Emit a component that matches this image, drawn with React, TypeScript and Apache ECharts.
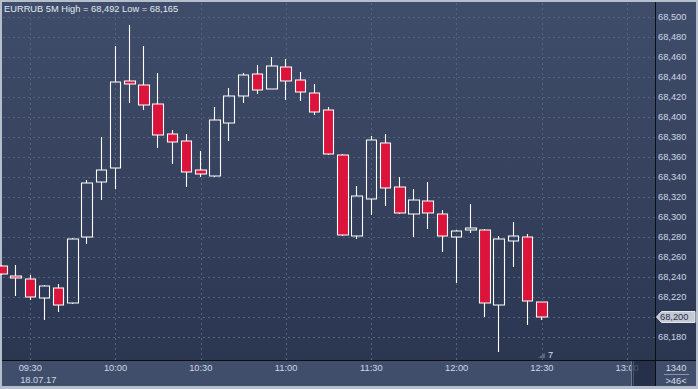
import React, { useEffect, useRef } from 'react';
import * as echarts from 'echarts';

const symbolTitle = 'EURRUB 5M';
const times = [
  '09:20', '09:25', '09:30', '09:35', '09:40', '09:45', '09:50', '09:55',
  '10:00', '10:05', '10:10', '10:15', '10:20', '10:25', '10:30', '10:35',
  '10:40', '10:45', '10:50', '10:55', '11:00', '11:05', '11:10', '11:15',
  '11:20', '11:25', '11:30', '11:35', '11:40', '11:45', '11:50', '11:55',
  '12:00', '12:05', '12:10', '12:15', '12:20', '12:25', '12:30',
];
const opens = [
  68.251, 68.241, 68.238, 68.219, 68.229, 68.214, 68.280, 68.335,
  68.349, 68.436, 68.432, 68.413, 68.383, 68.376, 68.347, 68.341,
  68.394, 68.421, 68.443, 68.428, 68.450, 68.437, 68.424, 68.407,
  68.362, 68.281, 68.318, 68.374, 68.330, 68.303, 68.316, 68.303,
  68.280, 68.287, 68.287, 68.212, 68.276, 68.280, 68.215,
];
const closes = [
  68.243, 68.239, 68.220, 68.231, 68.212, 68.278, 68.334, 68.347,
  68.435, 68.433, 68.412, 68.382, 68.375, 68.345, 68.343, 68.397,
  68.421, 68.442, 68.427, 68.451, 68.436, 68.425, 68.405, 68.363,
  68.282, 68.321, 68.377, 68.329, 68.304, 68.317, 68.304, 68.281,
  68.286, 68.289, 68.214, 68.278, 68.281, 68.216, 68.200,
];
const lows = [
  68.242, 68.221, 68.217, 68.197, 68.205, 68.213, 68.273, 68.317,
  68.328, 68.414, 68.407, 68.369, 68.353, 68.330, 68.340, 68.340,
  68.376, 68.414, 68.423, 68.428, 68.417, 68.416, 68.402, 68.362,
  68.281, 68.278, 68.302, 68.311, 68.303, 68.280, 68.288, 68.265,
  68.234, 68.284, 68.200, 68.165, 68.250, 68.192, 68.197,
];
const highs = [
  68.252, 68.252, 68.242, 68.232, 68.233, 68.279, 68.337, 68.380,
  68.471, 68.492, 68.471, 68.444, 68.387, 68.383, 68.366, 68.410,
  68.429, 68.444, 68.452, 68.460, 68.458, 68.445, 68.433, 68.410,
  68.363, 68.331, 68.381, 68.383, 68.340, 68.328, 68.335, 68.307,
  68.287, 68.313, 68.288, 68.281, 68.295, 68.283, 68.215,
];
const xTickLabels = ['09:30', '10:00', '10:30', '11:00', '11:30', '12:00', '12:30', '13:00'];
const yTickValues = [
  68.18, 68.2, 68.22, 68.24, 68.26, 68.28, 68.3, 68.32, 68.34,
  68.36, 68.38, 68.4, 68.42, 68.44, 68.46, 68.48, 68.5,
];
const dateLabel = '18.07.17';
const counterLabel = '7';
const panelTopLabel = '1340';
const panelBottomLabel = '>46<';

const FONT = 'Liberation Sans';
const FS = 9.3;
const LABEL_COLOR = '#cdd7e8';

function toMin(t: string): number {
  const [h, m] = t.split(':').map(Number);
  return (h - 9) * 60 + m;
}
function fmtPrice(v: number): string {
  return v.toFixed(3).replace('.', ',');
}

export default function App() {
  const ref = useRef<HTMLDivElement>(null);
  useEffect(() => {
    document.body.style.margin = '0';
    if (!ref.current) return;
    const chart = echarts.init(ref.current, undefined, { renderer: 'svg' });
    const tickMins = xTickLabels.map(toMin);
    const data = times.map((t, i) => [toMin(t), opens[i], closes[i], lows[i], highs[i]]);
    const hi = Math.max(...highs);
    const lo = Math.min(...lows);
    const lastClose = closes[closes.length - 1];
    // the last price is shown by the tag, so its own tick label is left out
    const yLabelValues = yTickValues.filter((v) => Math.abs(v - lastClose) > 0.005);

    chart.setOption({
      animation: false,
      grid: { left: 3, top: 3, width: 652, height: 357, containLabel: false },
      xAxis: {
        type: 'value',
        min: 20.4,
        max: 249.8,
        axisLine: { show: false },
        axisTick: { show: false, customValues: tickMins },
        axisLabel: {
          customValues: tickMins,
          margin: 3,
          color: LABEL_COLOR,
          fontFamily: FONT,
          fontSize: FS,
          formatter: (v: number) => {
            const idx = tickMins.indexOf(Math.round(v));
            return idx >= 0 ? xTickLabels[idx] : '';
          },
        },
        splitLine: { show: true, lineStyle: { color: '#56637f', type: [2, 3], width: 1 } },
      },
      yAxis: {
        type: 'value',
        position: 'right',
        min: 68.157,
        max: 68.514,
        axisLine: { show: false },
        axisTick: { show: false, customValues: yTickValues },
        axisLabel: {
          customValues: yLabelValues,
          margin: 3,
          color: LABEL_COLOR,
          fontFamily: FONT,
          fontSize: FS,
          formatter: (v: number) => fmtPrice(v),
        },
        splitLine: { show: true, lineStyle: { color: '#56637f', type: [2, 3], width: 1 } },
      },
      series: [
        {
          type: 'candlestick',
          data,
          barWidth: 11,
          clip: true,
          itemStyle: {
            color: 'rgba(0,0,0,0)',
            color0: '#dc143c',
            borderColor: '#ffffff',
            borderColor0: '#ffffff',
            borderWidth: 1.1,
          },
        },
      ],
    });

    const py = chart.convertToPixel({ yAxisIndex: 0 }, lastClose) as number;
    const lx = chart.convertToPixel({ xAxisIndex: 0 }, toMin(times[times.length - 1])) as number;
    const firstTickX = chart.convertToPixel({ xAxisIndex: 0 }, tickMins[0]) as number;
    const font = FS + 'px "' + FONT + '"';

    chart.setOption({
      graphic: {
        elements: [
          { type: 'rect', z: -20, silent: true, shape: { x: 0, y: 0, width: 698, height: 389 }, style: { fill: '#b6becc' } },
          {
            type: 'rect', z: -19, silent: true,
            shape: { x: 2, y: 2, width: 694, height: 358 },
            style: {
              fill: new echarts.graphic.LinearGradient(0, 0, 0, 1, [
                { offset: 0, color: '#404d6a' },
                { offset: 1, color: '#2b3651' },
              ]),
            },
          },
          { type: 'rect', z: -19, silent: true, shape: { x: 2, y: 361, width: 694, height: 25 }, style: { fill: '#404e6b' } },
          { type: 'line', z: 20, silent: true, shape: { x1: 2, y1: 360.5, x2: 696, y2: 360.5 }, style: { stroke: '#0a0e16', lineWidth: 1 } },
          { type: 'line', z: 20, silent: true, shape: { x1: 655.5, y1: 2, x2: 655.5, y2: 386 }, style: { stroke: '#0a0e16', lineWidth: 1 } },
          { type: 'rect', z: 30, silent: true, shape: { x: 631, y: 361, width: 24, height: 25 }, style: { fill: 'rgba(30,40,62,0.75)' } },
          { type: 'line', z: 31, silent: true, shape: { x1: 631.5, y1: 361, x2: 631.5, y2: 386 }, style: { stroke: '#6e7991', lineWidth: 1 } },
          { type: 'line', z: 31, silent: true, shape: { x1: 633.5, y1: 361, x2: 633.5, y2: 386 }, style: { stroke: '#47526c', lineWidth: 1 } },
          {
            type: 'text', z: 30, silent: true, x: 4, y: 9,
            style: {
              text: symbolTitle + ' High = ' + fmtPrice(hi) + ' Low = ' + fmtPrice(lo),
              fill: '#e2e9f4', font, textVerticalAlign: 'middle', textAlign: 'left',
            },
          },
          {
            type: 'text', z: 30, silent: true, x: firstTickX + 8, y: 379.5,
            style: { text: dateLabel, fill: LABEL_COLOR, font, textAlign: 'center', textVerticalAlign: 'middle' },
          },
          {
            type: 'text', z: 30, silent: true, x: 676, y: 368,
            style: { text: panelTopLabel, fill: '#d6dded', font, textAlign: 'center', textVerticalAlign: 'middle' },
          },
          { type: 'line', z: 30, silent: true, shape: { x1: 664, y1: 374.5, x2: 689, y2: 374.5 }, style: { stroke: '#8a95ab', lineWidth: 1 } },
          {
            type: 'text', z: 30, silent: true, x: 676, y: 381,
            style: { text: panelBottomLabel, fill: '#d6dded', font, textAlign: 'center', textVerticalAlign: 'middle' },
          },
          {
            type: 'polygon', z: 30, silent: true,
            shape: { points: [[lx - 4, 358], [lx + 3, 353], [lx + 3, 358]] },
            style: { fill: '#5b6680' },
          },
          {
            type: 'text', z: 30, silent: true, x: lx + 6, y: 355,
            style: { text: counterLabel, fill: '#d6dded', font, textAlign: 'left', textVerticalAlign: 'middle' },
          },
          {
            type: 'polygon', z: 40, silent: true,
            shape: { points: [[656.5, py], [661.5, py - 5.5], [695, py - 5.5], [695, py + 5.5], [661.5, py + 5.5]] },
            style: { fill: '#c4c9d3', stroke: '#e4e7ee', lineWidth: 1 },
          },
          {
            type: 'text', z: 41, silent: true, x: 660, y: py,
            style: { text: fmtPrice(lastClose), fill: '#25304a', font, textAlign: 'left', textVerticalAlign: 'middle' },
          },
        ],
      },
    });

    return () => chart.dispose();
  }, []);
  return <div ref={ref} style={{ width: 698, height: 389 }} />;
}
